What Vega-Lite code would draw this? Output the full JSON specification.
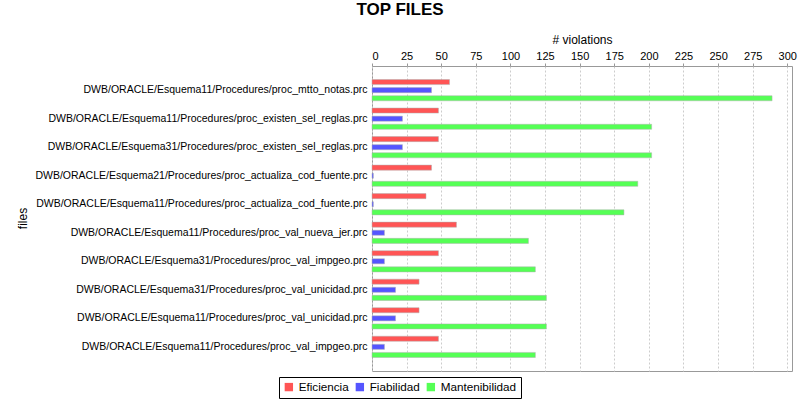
{
  "$schema": "https://vega.github.io/schema/vega-lite/v6.json",
  "autosize": "none",
  "width": 420,
  "height": 305,
  "padding": {"left": 372, "top": 66, "right": 8, "bottom": 29},
  "background": "white",
  "title": {"text": "TOP FILES", "font": "Liberation Sans", "fontSize": 17, "fontWeight": "bold", "color": "black", "anchor": "middle", "frame": "group", "offset": 14, "dx": -182},
  "config": {
    "view": {"stroke": "#999999", "strokeWidth": 1},
    "axis": {"labelFont": "Liberation Sans", "titleFont": "Liberation Sans", "labelColor": "black", "titleColor": "black", "titleFontWeight": "normal"}
  },
  "data": {"values": [
    {"file": "DWB/ORACLE/Esquema11/Procedures/proc_mtto_notas.prc", "type": "Eficiencia", "v": 56},
    {"file": "DWB/ORACLE/Esquema11/Procedures/proc_mtto_notas.prc", "type": "Fiabilidad", "v": 43},
    {"file": "DWB/ORACLE/Esquema11/Procedures/proc_mtto_notas.prc", "type": "Mantenibilidad", "v": 289},
    {"file": "DWB/ORACLE/Esquema11/Procedures/proc_existen_sel_reglas.prc", "type": "Eficiencia", "v": 48},
    {"file": "DWB/ORACLE/Esquema11/Procedures/proc_existen_sel_reglas.prc", "type": "Fiabilidad", "v": 22},
    {"file": "DWB/ORACLE/Esquema11/Procedures/proc_existen_sel_reglas.prc", "type": "Mantenibilidad", "v": 202},
    {"file": "DWB/ORACLE/Esquema31/Procedures/proc_existen_sel_reglas.prc", "type": "Eficiencia", "v": 48},
    {"file": "DWB/ORACLE/Esquema31/Procedures/proc_existen_sel_reglas.prc", "type": "Fiabilidad", "v": 22},
    {"file": "DWB/ORACLE/Esquema31/Procedures/proc_existen_sel_reglas.prc", "type": "Mantenibilidad", "v": 202},
    {"file": "DWB/ORACLE/Esquema21/Procedures/proc_actualiza_cod_fuente.prc", "type": "Eficiencia", "v": 43},
    {"file": "DWB/ORACLE/Esquema21/Procedures/proc_actualiza_cod_fuente.prc", "type": "Fiabilidad", "v": 1},
    {"file": "DWB/ORACLE/Esquema21/Procedures/proc_actualiza_cod_fuente.prc", "type": "Mantenibilidad", "v": 192},
    {"file": "DWB/ORACLE/Esquema11/Procedures/proc_actualiza_cod_fuente.prc", "type": "Eficiencia", "v": 39},
    {"file": "DWB/ORACLE/Esquema11/Procedures/proc_actualiza_cod_fuente.prc", "type": "Fiabilidad", "v": 1},
    {"file": "DWB/ORACLE/Esquema11/Procedures/proc_actualiza_cod_fuente.prc", "type": "Mantenibilidad", "v": 182},
    {"file": "DWB/ORACLE/Esquema11/Procedures/proc_val_nueva_jer.prc", "type": "Eficiencia", "v": 61},
    {"file": "DWB/ORACLE/Esquema11/Procedures/proc_val_nueva_jer.prc", "type": "Fiabilidad", "v": 9},
    {"file": "DWB/ORACLE/Esquema11/Procedures/proc_val_nueva_jer.prc", "type": "Mantenibilidad", "v": 113},
    {"file": "DWB/ORACLE/Esquema31/Procedures/proc_val_impgeo.prc", "type": "Eficiencia", "v": 48},
    {"file": "DWB/ORACLE/Esquema31/Procedures/proc_val_impgeo.prc", "type": "Fiabilidad", "v": 9},
    {"file": "DWB/ORACLE/Esquema31/Procedures/proc_val_impgeo.prc", "type": "Mantenibilidad", "v": 118},
    {"file": "DWB/ORACLE/Esquema31/Procedures/proc_val_unicidad.prc", "type": "Eficiencia", "v": 34},
    {"file": "DWB/ORACLE/Esquema31/Procedures/proc_val_unicidad.prc", "type": "Fiabilidad", "v": 17},
    {"file": "DWB/ORACLE/Esquema31/Procedures/proc_val_unicidad.prc", "type": "Mantenibilidad", "v": 126},
    {"file": "DWB/ORACLE/Esquema11/Procedures/proc_val_unicidad.prc", "type": "Eficiencia", "v": 34},
    {"file": "DWB/ORACLE/Esquema11/Procedures/proc_val_unicidad.prc", "type": "Fiabilidad", "v": 17},
    {"file": "DWB/ORACLE/Esquema11/Procedures/proc_val_unicidad.prc", "type": "Mantenibilidad", "v": 126},
    {"file": "DWB/ORACLE/Esquema11/Procedures/proc_val_impgeo.prc", "type": "Eficiencia", "v": 48},
    {"file": "DWB/ORACLE/Esquema11/Procedures/proc_val_impgeo.prc", "type": "Fiabilidad", "v": 9},
    {"file": "DWB/ORACLE/Esquema11/Procedures/proc_val_impgeo.prc", "type": "Mantenibilidad", "v": 118}
  ]},
  "mark": {"type": "bar", "stroke": "#b0b0b0", "strokeWidth": 0.5},
  "encoding": {
    "y": {"field": "file", "type": "nominal", "sort": null,
      "scale": {"paddingInner": 0.146, "paddingOuter": 0.42},
      "axis": {"title": "files", "titleFontSize": 12, "titleX": -350, "titleY": 152, "titleAngle": 270, "titleAlign": "center", "titleBaseline": "middle", "labelFontSize": 10.5, "ticks": false, "labelPadding": 5, "domain": false, "labelLimit": 400}},
    "yOffset": {"field": "type", "type": "nominal", "sort": ["Eficiencia", "Fiabilidad", "Mantenibilidad"], "scale": {"paddingInner": 0.375, "paddingOuter": 0.19}},
    "x": {"field": "v", "type": "quantitative",
      "scale": {"domain": [0, 303.4], "nice": false, "zero": true},
      "axis": {"orient": "top", "title": "# violations", "titleFontSize": 12, "labelFontSize": 11, "values": [0, 25, 50, 75, 100, 125, 150, 175, 200, 225, 250, 275, 300], "grid": true, "gridColor": "#cccccc", "gridDash": [2, 2], "tickColor": "#999999", "tickSize": 3, "domain": false, "labelPadding": 2, "titlePadding": 4}},
    "color": {"field": "type", "type": "nominal",
      "scale": {"domain": ["Eficiencia", "Fiabilidad", "Mantenibilidad"], "range": ["#FF5555", "#5555FF", "#55FF55"]},
      "legend": {"orient": "none", "legendX": -93, "legendY": 311, "direction": "horizontal", "title": null, "symbolType": "square", "symbolSize": 70, "symbolStrokeWidth": 0, "labelFont": "Liberation Sans", "labelFontSize": 11.7, "labelColor": "black", "strokeColor": "black", "padding": 4, "columnPadding": 5, "symbolOffset": 0, "labelOffset": 4}}
  }
}
